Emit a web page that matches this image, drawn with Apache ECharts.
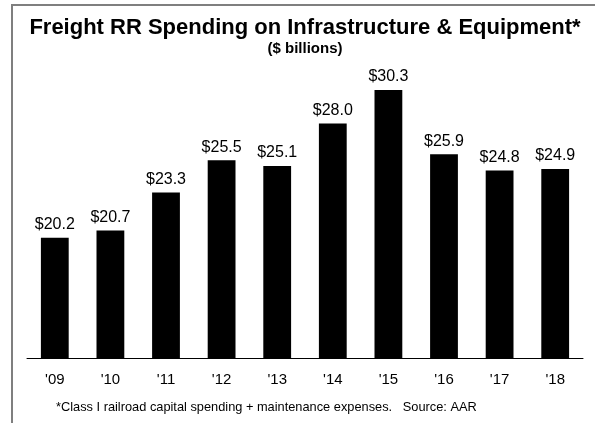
<!DOCTYPE html>
<html><head><meta charset="utf-8">
<script src="https://cdn.jsdelivr.net/npm/echarts@6/dist/echarts.min.js"></script>
<style>html,body{margin:0;padding:0;background:#fff}#c{width:595px;height:423px}</style>
</head><body><div id="c"></div>
<script>
var categories = ["'09","'10","'11","'12","'13","'14","'15","'16","'17","'18"];
var spending = [20.2, 20.7, 23.3, 25.5, 25.1, 28.0, 30.3, 25.9, 24.8, 24.9];
var titleText = "Freight RR Spending on Infrastructure & Equipment*";
var subtitleText = "($ billions)";
var footnoteText = "*Class I railroad capital spending + maintenance expenses.   Source: AAR";

var chart = echarts.init(document.getElementById('c'), null, {renderer:'canvas'});
chart.setOption({
  animation:false,
  backgroundColor:'#fff',
  graphic:[
    {type:'polyline', shape:{points:[[12,423],[12,5],[595,5]]}, style:{stroke:'#7f7f7f', lineWidth:2, fill:null}},
    {type:'text', x:305, y:17, style:{text:titleText, textAlign:'center', textVerticalAlign:'top', font:'bold 22px "Liberation Sans"', fill:'#000'}},
    {type:'text', x:305, y:41, style:{text:subtitleText, textAlign:'center', textVerticalAlign:'top', font:'bold 15px "Liberation Sans"', fill:'#000'}},
    {type:'text', x:56, y:401, style:{text:footnoteText, textVerticalAlign:'top', font:'12.8px "Liberation Sans"', fill:'#000'}}
  ],
  grid:{left:27, right:12, top:65, bottom:65},
  xAxis:{type:'category', data:categories,
    axisLine:{lineStyle:{color:'#000', width:1}},
    axisTick:{show:false},
    axisLabel:{color:'#000', fontFamily:'Liberation Sans', fontSize:15, margin:14}},
  yAxis:{type:'value', min:12, max:32, show:false, splitLine:{show:false}},
  series:[{type:'bar', data:spending, barWidth:'50%', itemStyle:{color:'#000'},
    label:{show:true, position:'top', distance:5, color:'#000', fontFamily:'Liberation Sans', fontSize:16,
      formatter:function(p){return '$'+p.value.toFixed(1);}}}]
});
</script></body></html>
